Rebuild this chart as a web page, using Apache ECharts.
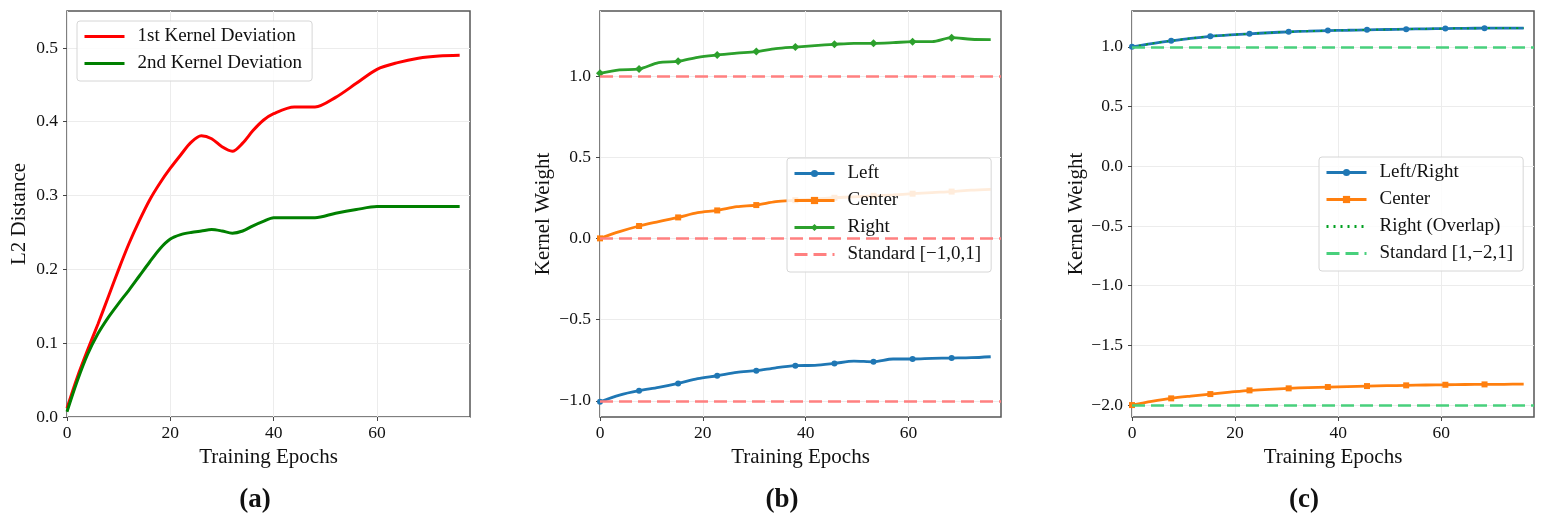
<!DOCTYPE html>
<html>
<head>
<meta charset="utf-8">
<title>Kernel deviation and weights</title>
<script src="https://cdn.jsdelivr.net/npm/echarts@6/dist/echarts.min.js"></script>
<style>
  html, body { margin: 0; padding: 0; background: #fff; }
  #chart { width: 1553px; height: 524px; }
</style>
</head>
<body>
<div id="chart"></div>
<script>
// panel (a): deviation from the initial kernels
const epochsA = [0, 2, 4, 6, 8, 10, 12, 14, 16, 18, 20, 22, 24, 26, 28, 30, 32, 34, 36, 38, 40, 44, 48, 52, 56, 60, 64, 68, 72, 76];
const kernel1Dev = [0.012, 0.054, 0.091, 0.126, 0.163, 0.2, 0.235, 0.266, 0.294, 0.317, 0.337, 0.355, 0.372, 0.381, 0.377, 0.366, 0.36, 0.371, 0.388, 0.402, 0.411, 0.42, 0.42, 0.433, 0.452, 0.471, 0.48, 0.486, 0.489, 0.49];
const kernel2Dev = [0.007, 0.049, 0.085, 0.113, 0.135, 0.154, 0.172, 0.191, 0.21, 0.228, 0.241, 0.247, 0.25, 0.252, 0.254, 0.252, 0.249, 0.252, 0.259, 0.265, 0.27, 0.27, 0.27, 0.276, 0.281, 0.285, 0.285, 0.285, 0.285, 0.285];

// panels (b) and (c): sampled every 3.8 epochs, marker on every other point
const epochsBC = [0, 3.8, 7.6, 11.4, 15.2, 19, 22.8, 26.6, 30.4, 34.2, 38, 41.8, 45.6, 49.4, 53.2, 57, 60.8, 64.6, 68.4, 72.2, 76];
const leftB = [-1.006, -0.965, -0.938, -0.918, -0.893, -0.864, -0.846, -0.825, -0.815, -0.797, -0.784, -0.782, -0.77, -0.756, -0.76, -0.743, -0.743, -0.739, -0.737, -0.735, -0.729];
const centerB = [0.0, 0.041, 0.076, 0.103, 0.129, 0.158, 0.172, 0.195, 0.205, 0.226, 0.235, 0.243, 0.25, 0.256, 0.262, 0.268, 0.275, 0.282, 0.288, 0.297, 0.302];
const rightB = [1.016, 1.037, 1.043, 1.082, 1.09, 1.115, 1.129, 1.14, 1.15, 1.168, 1.178, 1.187, 1.195, 1.201, 1.201, 1.205, 1.211, 1.211, 1.236, 1.226, 1.224];
const standardB = [-1, 0, 1];

const leftRightC = [1.0, 1.027, 1.05, 1.071, 1.088, 1.1, 1.109, 1.118, 1.126, 1.131, 1.136, 1.139, 1.142, 1.145, 1.148, 1.151, 1.153, 1.155, 1.156, 1.156, 1.156];
const centerC = [-2.0, -1.97, -1.944, -1.925, -1.908, -1.892, -1.877, -1.868, -1.86, -1.854, -1.849, -1.845, -1.841, -1.838, -1.835, -1.832, -1.83, -1.828, -1.827, -1.826, -1.824];
const standardC = [1, -2];

// tick labels
const xTicks = [0, 20, 40, 60];
const yTicksA = [0, 0.1, 0.2, 0.3, 0.4, 0.5];
const yTicksB = [-1, -0.5, 0, 0.5, 1];
const yTicksC = [-2, -1.5, -1, -0.5, 0, 0.5, 1];

const FONT = "Liberation Serif";
const grids = [
  { left: 67, top: 11, width: 403, height: 406 },
  { left: 600, top: 11, width: 401, height: 406 },
  { left: 1132, top: 11, width: 402, height: 406 }
];

function pairs(xs, ys) {
  return xs.map((x, i) => [x, ys[i]]);
}

// only every other point gets a marker, and never the last one
function withMarkers(xs, ys) {
  return xs.map((x, i) => {
    if (i % 2 === 0 && i < xs.length - 1) return [x, ys[i]];
    return { value: [x, ys[i]], symbol: "none" };
  });
}

function xAxisFor(idx) {
  return {
    gridIndex: idx, type: "value", min: 0, max: 78,
    name: "Training Epochs", nameLocation: "middle", nameGap: 26,
    nameTextStyle: { fontFamily: FONT, fontSize: 21, color: "#111" },
    axisLine: { show: false, onZero: false },
    axisTick: { show: true, length: 4, customValues: xTicks, lineStyle: { color: "#444" } },
    axisLabel: { customValues: xTicks, fontFamily: FONT, fontSize: 17.5, color: "#111", margin: 7 },
    splitLine: { show: true, lineStyle: { color: "#ececec", width: 1 } }
  };
}

function yAxisFor(idx, name, min, max, ticks, gap) {
  return {
    gridIndex: idx, type: "value", min: min, max: max,
    name: name, nameLocation: "middle", nameGap: gap, nameRotate: 90,
    nameTextStyle: { fontFamily: FONT, fontSize: 21, color: "#111" },
    axisLine: { show: false, onZero: false },
    axisTick: { show: true, length: 4, customValues: ticks, lineStyle: { color: "#444" } },
    axisLabel: {
      customValues: ticks, fontFamily: FONT, fontSize: 17.5, color: "#111", margin: 9,
      formatter: v => v.toFixed(1).replace("-", "\u2212")
    },
    splitLine: { show: true, lineStyle: { color: "#ececec", width: 1 } }
  };
}

function standardSeries(name, values, color, idx) {
  return {
    name: name, type: "line", xAxisIndex: idx, yAxisIndex: idx, data: [],
    symbol: "none",
    lineStyle: { color: color, width: 2.5, type: [13, 6] },
    itemStyle: { color: color },
    markLine: {
      silent: true, symbol: "none", label: { show: false },
      lineStyle: { color: color, width: 2.5, type: [13, 6] },
      data: values.map(v => ({ yAxis: v }))
    }
  };
}

function markerSeries(name, ys, color, symbol, size, idx) {
  return {
    name: name, type: "line", xAxisIndex: idx, yAxisIndex: idx,
    data: withMarkers(epochsBC, ys), smooth: 0.3,
    symbol: symbol, symbolSize: size,
    lineStyle: { color: color, width: 2.8 },
    itemStyle: { color: color }
  };
}

// legend entry for a plain line: hide the marker the icon would draw
function plain(name) {
  return { name: name, itemStyle: { opacity: 0 } };
}

function legendAt(left, top, names) {
  return {
    left: left, top: top, orient: "vertical", data: names,
    itemWidth: 40, itemHeight: 9, itemGap: 8,
    padding: [6, 10, 8, 6],
    backgroundColor: "rgba(255,255,255,0.85)",
    borderColor: "#d6d6d6", borderWidth: 1, borderRadius: 3,
    lineStyle: { width: 3 },
    textStyle: { fontFamily: FONT, fontSize: 19, color: "#111", lineHeight: 19, padding: [0, 0, 0, 8] }
  };
}

function caption(letter, x) {
  return {
    text: "{p|(}{b|" + letter + "}{p|)}",
    left: x, top: 482, textAlign: "center",
    textStyle: {
      rich: {
        p: { fontFamily: FONT, fontSize: 27, color: "#111" },
        b: { fontFamily: FONT, fontSize: 27, fontWeight: "bold", color: "#111" }
      }
    }
  };
}

var chart = echarts.init(document.getElementById("chart"), null, { renderer: "canvas" });

chart.setOption({
  backgroundColor: "#fff",
  animation: false,
  title: [caption("a", 250), caption("b", 777), caption("c", 1299)],
  grid: grids.map(g => Object.assign({ show: true, borderColor: "#555", borderWidth: 1.5, backgroundColor: "transparent" }, g)),
  xAxis: [xAxisFor(0), xAxisFor(1), xAxisFor(2)],
  yAxis: [
    yAxisFor(0, "L2 Distance", 0, 0.55, yTicksA, 37),
    yAxisFor(1, "Kernel Weight", -1.1, 1.4, yTicksB, 46),
    yAxisFor(2, "Kernel Weight", -2.1, 1.3, yTicksC, 45)
  ],
  legend: [
    legendAt(77, 21, [plain("1st Kernel Deviation"), plain("2nd Kernel Deviation")]),
    legendAt(787, 158, ["Left", "Center", "Right", plain("Standard [\u22121,0,1]")]),
    legendAt(1319, 157, ["Left/Right", "Center ", plain("Right (Overlap)"), plain("Standard [1,\u22122,1]")])
  ],
  series: [
    // (a)
    { name: "1st Kernel Deviation", type: "line", xAxisIndex: 0, yAxisIndex: 0,
      data: pairs(epochsA, kernel1Dev), smooth: 0.3, symbol: "none",
      lineStyle: { color: "#ff0000", width: 3 }, itemStyle: { color: "#ff0000" } },
    { name: "2nd Kernel Deviation", type: "line", xAxisIndex: 0, yAxisIndex: 0,
      data: pairs(epochsA, kernel2Dev), smooth: 0.3, symbol: "none",
      lineStyle: { color: "#008000", width: 3 }, itemStyle: { color: "#008000" } },
    // (b)
    standardSeries("Standard [\u22121,0,1]", standardB, "#ff8080", 1),
    markerSeries("Left", leftB, "#1f77b4", "circle", 6, 1),
    markerSeries("Center", centerB, "#ff7f0e", "rect", 6, 1),
    markerSeries("Right", rightB, "#2ca02c", "diamond", 8, 1),
    // (c)
    standardSeries("Standard [1,\u22122,1]", standardC, "#48d07c", 2),
    markerSeries("Left/Right", leftRightC, "#1f77b4", "circle", 6, 2),
    markerSeries("Center ", centerC, "#ff7f0e", "rect", 6, 2),
    { name: "Right (Overlap)", type: "line", xAxisIndex: 2, yAxisIndex: 2,
      data: pairs(epochsBC, leftRightC), smooth: 0.3, symbol: "none",
      lineStyle: { color: "#00a020", width: 1.8, type: [2, 5] }, itemStyle: { color: "#00a020" } }
  ]
});
</script>
</body>
</html>
